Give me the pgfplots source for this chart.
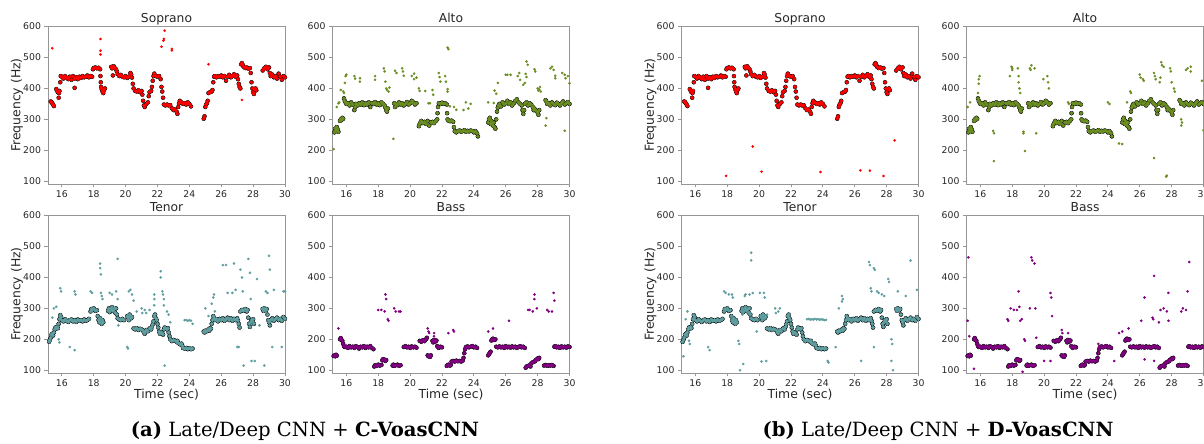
\documentclass[border=0pt]{standalone}
\usepackage{pgfplots}
\pgfplotsset{compat=1.18}
\usepackage{pgfplotstable}
\usepackage{fontspec}
\setmainfont{DejaVu Sans}
\newfontfamily\capfont{DejaVu Serif}

\definecolor{sop}{RGB}{255,0,0}
\definecolor{alt}{RGB}{107,142,35}
\definecolor{ten}{RGB}{95,158,160}
\definecolor{bas}{RGB}{128,0,128}
\definecolor{spine}{RGB}{150,150,150}
\definecolor{txt}{RGB}{38,38,38}

% ---------------- ground truth (shared) ----------------
\pgfplotstableread[row sep=\\]{t f\\
15.30 358\\15.35 356\\15.40 352\\15.45 348\\15.50 343\\
15.65 398\\15.70 393\\15.75 388\\15.80 370\\15.82 385\\15.85 392\\15.90 420\\15.93 440\\
16.0 438\\16.1 432\\16.2 440\\16.3 435\\16.4 430\\16.5 438\\16.6 428\\16.7 440\\16.8 432\\16.8 402\\16.9 436\\17.0 430\\17.1 438\\17.2 434\\17.3 440\\17.4 436\\17.5 438\\17.6 442\\17.7 436\\17.8 440\\17.9 438\\
17.95 462\\18.0 466\\18.1 468\\18.2 465\\18.3 467\\18.4 462\\18.42 440\\18.44 420\\18.46 405\\18.5 398\\18.55 390\\18.6 385\\18.65 395\\18.7 400\\
19.1 470\\19.15 465\\19.2 442\\19.25 472\\19.3 468\\19.4 462\\19.45 455\\19.5 446\\19.6 440\\19.7 444\\19.8 438\\19.9 436\\20.0 440\\20.1 434\\20.2 438\\20.3 450\\20.35 445\\20.4 435\\20.45 415\\20.5 400\\20.6 392\\20.7 390\\20.8 394\\20.9 388\\21.0 392\\21.05 380\\21.1 360\\21.15 345\\21.2 340\\21.3 350\\21.4 355\\21.45 375\\21.5 388\\21.6 392\\21.65 405\\21.7 425\\21.75 440\\21.8 448\\21.9 440\\22.0 438\\22.1 440\\22.2 430\\22.25 405\\22.3 390\\22.35 370\\22.4 348\\22.5 345\\22.6 348\\22.7 345\\22.8 346\\22.9 336\\23.0 330\\23.1 332\\23.2 325\\23.25 318\\23.3 340\\23.35 352\\23.4 360\\23.5 355\\23.6 350\\23.7 352\\23.8 348\\23.9 355\\24.0 350\\24.1 342\\
24.9 302\\24.95 310\\25.0 340\\25.05 348\\25.1 352\\25.15 360\\25.2 385\\25.3 388\\25.4 390\\25.45 395\\25.5 420\\25.55 438\\25.6 440\\25.7 436\\25.8 440\\25.9 438\\26.0 442\\26.1 436\\26.2 440\\26.3 425\\26.4 438\\26.5 444\\26.6 436\\26.7 440\\26.8 446\\26.9 438\\27.0 442\\27.05 430\\27.1 415\\27.15 405\\27.2 400\\27.25 478\\27.3 482\\27.35 476\\27.4 470\\27.5 466\\27.6 468\\27.7 464\\27.8 466\\27.85 450\\27.9 420\\27.95 400\\28.0 388\\28.05 382\\28.1 398\\28.15 400\\28.2 394\\
28.6 458\\28.7 465\\28.8 470\\28.9 462\\29.0 468\\29.05 450\\29.1 440\\29.2 445\\29.3 436\\29.4 440\\29.5 432\\29.6 448\\29.7 438\\29.8 428\\29.9 440\\30.0 436\\
}\sopGT

\pgfplotstableread[row sep=\\]{t f\\
15.25 258\\15.3 270\\15.35 262\\15.4 275\\15.45 268\\15.5 260\\
15.6 295\\15.65 300\\15.7 298\\15.75 305\\15.8 302\\
15.85 368\\15.9 360\\15.95 355\\16.0 350\\16.1 352\\16.2 345\\16.3 355\\16.4 348\\16.5 330\\16.55 340\\16.6 350\\16.7 345\\16.8 352\\16.9 348\\17.0 355\\17.1 346\\17.2 352\\17.3 348\\17.4 355\\17.5 340\\17.6 352\\17.7 350\\17.8 356\\17.9 348\\18.0 352\\18.1 346\\18.2 355\\18.3 350\\18.4 345\\18.45 338\\18.5 330\\18.55 325\\18.6 335\\
19.0 352\\19.05 340\\19.1 350\\19.2 346\\19.3 355\\19.4 348\\19.5 352\\19.6 345\\19.7 350\\19.8 356\\19.9 348\\20.0 352\\20.1 360\\20.2 355\\20.3 348\\20.4 352\\
20.55 278\\20.6 285\\20.65 290\\20.7 295\\20.8 288\\20.9 292\\21.0 285\\21.1 295\\21.2 280\\21.3 290\\21.4 292\\21.5 288\\21.6 294\\21.7 300\\21.72 320\\21.75 340\\21.8 352\\21.9 350\\22.0 354\\22.1 350\\22.2 352\\22.3 348\\22.32 320\\22.35 300\\22.4 296\\22.5 294\\22.6 296\\22.7 292\\22.75 275\\22.8 262\\22.9 258\\23.0 262\\23.1 264\\23.2 260\\23.3 262\\23.4 265\\23.5 260\\23.6 263\\23.7 261\\23.8 264\\23.9 262\\24.0 258\\24.1 262\\24.2 255\\24.25 245\\
24.9 290\\24.95 300\\25.0 305\\25.05 285\\25.1 295\\25.15 288\\25.2 280\\25.25 290\\25.3 275\\25.35 270\\25.4 300\\25.45 325\\25.5 338\\25.55 345\\25.6 350\\25.7 342\\25.8 355\\25.9 348\\26.0 352\\26.1 360\\26.2 350\\26.3 355\\26.4 345\\26.5 352\\26.6 360\\26.7 365\\26.8 355\\26.9 350\\27.0 345\\27.05 330\\27.1 318\\27.15 330\\27.2 350\\27.3 355\\27.4 345\\27.5 352\\27.6 348\\27.7 340\\27.75 330\\27.8 335\\27.9 328\\28.0 322\\28.05 315\\28.1 330\\
28.5 362\\28.55 358\\28.6 350\\28.7 352\\28.8 345\\28.9 355\\29.0 350\\29.1 346\\29.2 354\\29.3 350\\29.4 345\\29.5 352\\29.6 358\\29.7 348\\29.8 352\\29.9 356\\30.0 350\\
}\altGT

\pgfplotstableread[row sep=\\]{t f\\
15.2 192\\15.25 198\\15.3 205\\15.35 215\\15.4 218\\15.45 212\\15.5 222\\
15.55 232\\15.6 238\\15.65 235\\15.7 240\\15.75 236\\15.8 250\\15.85 265\\15.9 278\\15.95 272\\16.0 262\\16.1 258\\16.2 265\\16.3 260\\16.4 256\\16.5 262\\16.6 264\\16.7 258\\16.8 262\\16.9 256\\17.0 264\\17.1 260\\17.2 262\\17.3 258\\17.4 264\\17.5 260\\17.6 262\\17.7 266\\17.8 290\\17.85 298\\17.9 295\\18.0 300\\18.1 292\\18.2 294\\18.25 275\\18.3 262\\18.35 255\\18.4 268\\18.45 258\\18.5 250\\18.55 262\\18.6 255\\
18.9 292\\18.95 300\\19.0 288\\19.1 296\\19.15 304\\19.2 292\\19.3 298\\19.35 286\\19.4 300\\19.45 280\\19.5 268\\19.6 264\\19.7 262\\19.8 266\\19.9 262\\
20.1 275\\20.15 270\\20.2 262\\20.25 280\\20.3 275\\20.35 268\\20.4 272\\
20.5 235\\20.6 232\\20.7 236\\20.8 230\\20.9 234\\21.0 232\\21.1 228\\21.15 222\\21.2 218\\21.25 225\\21.3 230\\21.4 226\\21.5 235\\21.6 232\\21.65 240\\21.7 248\\21.75 258\\21.8 275\\21.85 280\\21.9 268\\21.95 262\\22.0 250\\22.05 238\\22.1 225\\22.15 218\\22.2 222\\22.3 220\\22.35 215\\22.4 232\\22.45 238\\22.5 235\\22.6 232\\22.65 236\\22.7 222\\22.75 210\\22.8 200\\22.9 194\\23.0 198\\23.1 196\\23.2 192\\23.25 195\\23.3 188\\23.4 184\\23.5 186\\23.55 180\\23.6 172\\23.7 170\\23.8 172\\23.9 168\\24.0 171\\24.1 168\\24.2 170\\
24.9 225\\24.95 222\\25.0 228\\25.1 226\\25.2 232\\25.25 228\\25.3 236\\25.35 234\\25.4 250\\25.45 262\\25.5 275\\25.55 268\\25.6 262\\25.7 265\\25.8 258\\25.9 266\\26.0 262\\26.1 268\\26.2 260\\26.3 265\\26.4 270\\26.5 262\\26.6 268\\26.7 260\\26.8 266\\26.9 262\\27.0 268\\27.05 260\\27.1 250\\27.15 238\\27.2 290\\27.3 295\\27.4 292\\27.5 298\\27.6 290\\27.65 295\\27.7 270\\27.75 250\\27.8 240\\27.85 255\\27.9 262\\27.95 258\\28.0 265\\28.05 250\\
28.6 298\\28.65 292\\28.7 300\\28.8 294\\28.85 298\\28.9 280\\28.95 262\\29.0 255\\29.05 245\\29.1 262\\29.2 268\\29.3 260\\29.4 265\\29.5 270\\29.6 262\\29.7 266\\29.8 260\\29.9 272\\30.0 266\\
}\tenGT

\pgfplotstableread[row sep=\\]{t f\\
15.2 146\\15.25 148\\15.3 145\\15.35 150\\15.4 147\\
15.6 200\\15.65 204\\15.7 198\\15.75 195\\15.8 185\\15.85 178\\15.9 175\\16.0 176\\16.1 172\\16.2 178\\16.3 174\\16.4 176\\16.5 172\\16.6 178\\16.7 175\\16.8 170\\16.9 176\\17.0 174\\17.1 178\\17.2 172\\17.3 176\\17.4 174\\17.5 178\\17.6 172\\17.7 168\\
17.75 112\\17.8 116\\17.9 114\\18.0 118\\18.1 115\\18.2 117\\18.25 132\\18.3 136\\18.4 134\\18.45 130\\18.5 133\\
18.9 115\\18.95 118\\19.0 114\\19.1 116\\19.2 118\\19.3 114\\19.4 116\\
19.6 175\\19.7 178\\19.8 174\\19.9 176\\20.0 172\\20.1 177\\20.2 174\\20.3 176\\20.4 173\\
20.6 195\\20.7 192\\20.8 197\\20.9 194\\21.0 200\\21.05 205\\21.1 148\\21.15 145\\21.2 146\\21.25 143\\21.3 148\\
21.4 195\\21.45 190\\21.5 198\\21.6 193\\21.65 196\\21.7 178\\21.75 175\\21.8 172\\21.9 176\\22.0 174\\
22.3 114\\22.35 116\\22.4 118\\22.5 115\\22.55 117\\22.6 128\\22.7 130\\22.8 128\\22.9 131\\23.0 129\\23.1 130\\23.2 128\\23.3 131\\23.35 140\\23.4 155\\23.45 168\\23.5 175\\23.6 177\\23.7 174\\23.8 176\\23.9 178\\24.0 174\\24.1 176\\24.2 172\\
24.9 148\\24.95 152\\25.0 156\\25.05 160\\25.1 196\\25.15 200\\25.2 202\\25.3 198\\25.35 200\\25.4 176\\25.5 174\\25.6 177\\25.7 174\\25.8 176\\25.9 172\\26.0 178\\26.1 174\\26.2 176\\26.3 173\\26.4 177\\26.5 174\\26.6 176\\26.7 172\\26.8 175\\26.9 178\\27.0 174\\27.1 176\\27.2 172\\
27.25 108\\27.3 112\\27.4 114\\27.5 116\\27.55 112\\27.6 122\\27.7 126\\27.8 128\\27.85 130\\27.9 134\\28.0 138\\28.05 136\\28.1 140\\
28.4 115\\28.5 117\\28.6 114\\28.7 116\\28.8 115\\28.9 117\\29.0 114\\
29.05 176\\29.1 178\\29.2 174\\29.3 176\\29.4 172\\29.5 177\\29.6 174\\29.7 176\\29.8 173\\29.9 177\\30.0 175\\
}\basGT

% ---------------- outliers (a) C-VoasCNN ----------------
\pgfplotstableread[row sep=\\]{t f\\
15.4 530\\18.42 560\\18.42 522\\18.42 510\\22.25 535\\22.37 555\\22.4 560\\22.45 587\\22.9 528\\22.9 523\\25.2 478\\27.3 363\\
}\sopOutA
\pgfplotstableread[row sep=\\]{t f\\
15.2 204\\15.4 340\\15.5 352\\15.55 355\\15.65 395\\15.8 390\\15.85 385\\15.9 418\\15.95 440\\16.0 445\\16.5 440\\16.55 432\\16.85 433\\16.85 422\\17.8 440\\17.8 428\\
18.35 465\\18.4 455\\18.45 422\\18.5 400\\18.55 395\\18.65 390\\18.7 403\\18.95 237\\19.05 457\\19.15 450\\19.5 465\\19.55 455\\19.6 441\\20.1 440\\20.25 448\\20.25 430\\20.4 435\\
20.55 400\\20.6 392\\20.95 392\\21.4 395\\21.45 380\\21.15 352\\21.25 352\\21.8 450\\21.85 437\\21.9 422\\22.2 440\\22.25 422\\22.35 398\\22.35 390\\22.35 532\\22.4 527\\
22.5 342\\22.75 340\\22.9 331\\23.35 330\\23.5 355\\23.65 335\\23.8 350\\24.9 355\\25.25 353\\25.3 393\\25.4 383\\25.5 418\\26.0 444\\26.1 444\\26.3 444\\
26.75 440\\26.85 450\\26.9 428\\27.1 412\\27.2 418\\27.25 447\\27.3 437\\27.3 487\\27.38 477\\27.8 462\\27.85 455\\28.0 400\\28.05 393\\28.1 397\\28.2 390\\28.15 405\\
28.5 280\\28.55 304\\28.8 465\\28.9 470\\29.0 460\\29.1 441\\29.1 433\\29.55 450\\29.7 444\\29.75 433\\29.9 440\\30.0 417\\29.7 263\\
}\altOutA
\pgfplotstableread[row sep=\\]{t f\\
15.4 270\\15.5 300\\15.65 305\\15.8 200\\15.85 190\\15.9 365\\15.95 355\\16.5 175\\16.8 165\\16.8 355\\16.85 345\\17.8 355\\17.9 350\\18.4 445\\18.4 430\\18.45 410\\18.45 350\\18.5 340\\18.55 330\\19.0 350\\19.15 345\\19.4 355\\19.5 460\\19.5 330\\19.55 245\\20.1 175\\20.15 170\\20.2 355\\20.3 360\\20.4 345\\20.5 325\\20.7 290\\21.0 300\\21.05 285\\21.2 295\\21.3 285\\21.5 295\\21.8 345\\21.8 330\\21.8 310\\22.2 420\\22.2 400\\22.3 355\\22.35 345\\22.4 330\\22.4 310\\22.45 115\\22.6 290\\22.7 280\\22.8 255\\23.7 262\\23.8 262\\23.9 260\\24.0 262\\24.1 260\\24.2 250\\25.0 300\\25.2 275\\25.4 315\\25.5 335\\25.55 345\\25.6 290\\26.1 440\\26.3 440\\26.4 350\\26.7 350\\26.9 360\\26.8 445\\27.0 175\\27.1 175\\27.2 425\\27.3 400\\27.35 355\\27.4 115\\27.7 460\\27.8 415\\27.85 330\\27.9 130\\28.1 130\\28.25 395\\28.4 245\\28.7 115\\28.8 355\\28.9 350\\29.0 470\\29.05 425\\29.2 175\\29.3 360\\29.8 175\\29.9 355\\30.0 355\\
}\tenOutA
\pgfplotstableread[row sep=\\]{t f\\
15.5 235\\18.0 295\\18.2 295\\18.4 290\\18.45 345\\18.5 330\\18.6 265\\18.65 260\\19.0 300\\19.1 290\\19.3 290\\19.4 290\\21.1 235\\21.15 225\\21.2 220\\21.5 210\\21.5 220\\22.4 220\\22.7 230\\22.75 225\\24.9 225\\25.2 235\\26.2 260\\27.4 295\\27.5 295\\27.7 290\\27.8 345\\27.8 330\\27.95 300\\28.6 295\\28.7 290\\28.9 290\\29.0 350\\29.05 325\\
}\basOutA

% ---------------- outliers (b) D-VoasCNN ----------------
\pgfplotstableread[row sep=\\]{t f\\
17.93 117\\19.6 212\\20.15 131\\23.85 130\\26.35 135\\26.95 134\\27.8 117\\28.5 232\\
}\sopOutB
\pgfplotstableread[row sep=\\]{t f\\
15.2 340\\15.35 355\\15.85 385\\15.9 415\\15.95 440\\15.9 430\\16.8 263\\16.85 255\\16.85 165\\17.85 440\\17.95 470\\18.0 465\\18.0 460\\18.35 465\\18.4 440\\18.4 420\\18.45 400\\18.5 385\\18.7 260\\18.7 255\\18.8 198\\19.1 465\\19.15 460\\19.2 475\\19.4 465\\19.5 255\\19.95 430\\20.2 440\\20.25 420\\20.3 400\\21.5 355\\21.55 350\\24.0 355\\24.1 350\\24.7 222\\24.9 220\\25.2 355\\25.4 390\\25.45 385\\26.0 445\\26.05 435\\26.2 430\\26.25 425\\26.9 175\\26.9 450\\26.95 440\\27.0 430\\27.25 420\\27.3 435\\27.35 485\\27.4 475\\27.5 470\\27.65 115\\27.7 118\\27.9 465\\27.95 455\\28.0 420\\28.15 400\\28.2 390\\28.6 300\\28.65 290\\28.6 280\\28.9 460\\29.0 465\\29.2 470\\29.2 455\\29.9 425\\30.0 265\\
}\altOutB
\pgfplotstableread[row sep=\\]{t f\\
15.25 145\\15.4 265\\15.5 290\\15.6 195\\15.65 185\\16.8 175\\16.9 165\\17.8 355\\17.9 350\\18.1 345\\18.3 345\\18.35 335\\18.7 195\\18.75 185\\18.8 100\\18.95 280\\19.0 120\\19.1 340\\19.15 345\\19.4 345\\19.5 455\\19.5 480\\19.6 350\\19.85 225\\20.05 350\\20.15 128\\20.3 350\\20.35 335\\20.45 130\\20.5 280\\21.0 300\\21.05 285\\21.2 290\\21.3 300\\23.0 265\\23.1 266\\23.2 264\\23.3 265\\23.4 264\\23.5 266\\23.6 264\\23.7 265\\23.8 263\\23.9 265\\24.0 264\\24.1 262\\24.2 263\\24.3 130\\24.35 125\\24.8 175\\25.0 300\\25.2 340\\25.25 330\\25.2 322\\26.4 130\\26.9 450\\26.95 440\\27.0 365\\27.05 355\\27.2 430\\27.25 425\\27.2 175\\27.4 355\\27.5 350\\27.7 345\\27.85 340\\28.1 395\\28.15 385\\28.3 200\\28.35 185\\28.3 130\\28.4 100\\28.7 355\\29.2 340\\29.5 455\\29.9 360\\
}\tenOutB
\pgfplotstableread[row sep=\\]{t f\\
15.2 260\\15.25 465\\15.3 210\\15.6 105\\17.7 265\\17.75 260\\17.9 300\\18.1 295\\18.3 295\\18.4 355\\18.45 305\\18.5 260\\18.6 265\\18.65 95\\18.75 200\\18.8 195\\19.1 300\\19.2 465\\19.25 455\\19.4 445\\19.45 300\\19.5 205\\20.0 130\\20.4 350\\20.45 335\\20.5 275\\20.4 130\\21.1 230\\21.15 220\\21.5 220\\23.4 185\\24.4 130\\24.7 220\\24.9 225\\25.3 235\\26.1 260\\26.3 335\\26.3 135\\26.8 270\\26.85 265\\26.9 130\\26.9 405\\27.2 255\\27.3 295\\27.5 300\\27.7 290\\27.8 350\\27.8 260\\28.6 290\\28.7 300\\28.9 295\\29.0 355\\29.1 450\\
}\basOutB

\pgfplotsset{
  voice/.style={
    scale only axis, width=237pt, height=158pt,
    xmin=15.13, xmax=30, ymin=91, ymax=602,
    xtick={16,18,...,30}, ytick={100,200,...,600},
    tick pos=left, tick align=outside, major tick length=3.5pt,
    axis line style={spine, line width=0.8pt},
    every tick/.style={spine, line width=0.8pt},
    ticklabel style={font=\fontsize{9.3}{10}\selectfont, text=txt},
    /pgf/number format/assume math mode=true,
    title style={font=\fontsize{12.3}{13}\selectfont, text=txt,
      at={(axis description cs:0.5,1)}, anchor=base, yshift=-2.4pt, inner sep=0pt},
    ylabel style={font=\fontsize{12.4}{13}\selectfont, text=txt,
      at={(axis description cs:-0.105,0.5)}, anchor=south, rotate=0, inner sep=0pt},
    xlabel style={font=\fontsize{12.4}{13}\selectfont, text=txt,
      at={(axis description cs:0.5,0)}, anchor=base, yshift=-26pt, inner sep=0pt},
  },
  gt/.style={only marks, mark=*, mark size=2.0pt, color=black, mark options={draw=none, fill=black}},
  pr/.style={only marks, mark=*, mark size=1.7pt, color=#1, mark options={draw=none, fill=#1}},
  ol/.style={only marks, mark=*, mark size=1.1pt, color=#1, mark options={draw=none, fill=#1}},
}

\begin{document}
\begin{tikzpicture}
\useasboundingbox (0,0) rectangle (1204pt,444pt);
\begin{scope}
\clip (0,0) rectangle (1204pt,444pt);
% ======== (a) ========
\begin{axis}[voice, at={(48pt,260pt)}, anchor=south west, title={Soprano}, ylabel={Frequency (Hz)}]
\addplot[gt] table {\sopGT};
\addplot[pr=sop] table {\sopGT};
\addplot[ol=sop] table {\sopOutA};
\end{axis}
\begin{axis}[voice, at={(332.5pt,260pt)}, anchor=south west, title={Alto}]
\addplot[gt] table {\altGT};
\addplot[pr=alt] table {\altGT};
\addplot[ol=alt] table {\altOutA};
\end{axis}
\begin{axis}[voice, at={(48pt,71pt)}, anchor=south west, title={Tenor}, ylabel={Frequency (Hz)}, xlabel={Time (sec)}]
\addplot[gt] table {\tenGT};
\addplot[pr=ten] table {\tenGT};
\addplot[ol=ten] table {\tenOutA};
\end{axis}
\begin{axis}[voice, at={(332.5pt,71pt)}, anchor=south west, title={Bass}, xlabel={Time (sec)}]
\addplot[gt] table {\basGT};
\addplot[pr=bas] table {\basGT};
\addplot[ol=bas] table {\basOutA};
\end{axis}
% ======== (b) ========
\begin{axis}[voice, at={(681.5pt,260pt)}, anchor=south west, title={Soprano}, ylabel={Frequency (Hz)}]
\addplot[gt] table {\sopGT};
\addplot[pr=sop] table {\sopGT};
\addplot[ol=sop] table {\sopOutB};
\end{axis}
\begin{axis}[voice, at={(966.5pt,260pt)}, anchor=south west, title={Alto}]
\addplot[gt] table {\altGT};
\addplot[pr=alt] table {\altGT};
\addplot[ol=alt] table {\altOutB};
\end{axis}
\begin{axis}[voice, at={(681.5pt,71pt)}, anchor=south west, title={Tenor}, ylabel={Frequency (Hz)}, xlabel={Time (sec)}]
\addplot[gt] table {\tenGT};
\addplot[pr=ten] table {\tenGT};
\addplot[ol=ten] table {\tenOutB};
\end{axis}
\begin{axis}[voice, at={(966.5pt,71pt)}, anchor=south west, title={Bass}, xlabel={Time (sec)}]
\addplot[gt] table {\basGT};
\addplot[pr=bas] table {\basGT};
\addplot[ol=bas] table {\basOutB};
\end{axis}
% captions
\node[anchor=base, inner sep=0pt, font=\capfont\fontsize{19.6}{21}\selectfont] at (305pt,7.3pt)
  {\textbf{(a)} Late/Deep CNN + \textbf{C-VoasCNN}};
\node[anchor=base, inner sep=0pt, font=\capfont\fontsize{19.6}{21}\selectfont] at (938pt,7.3pt)
  {\textbf{(b)} Late/Deep CNN + \textbf{D-VoasCNN}};
\end{scope}
\end{tikzpicture}
\end{document}
